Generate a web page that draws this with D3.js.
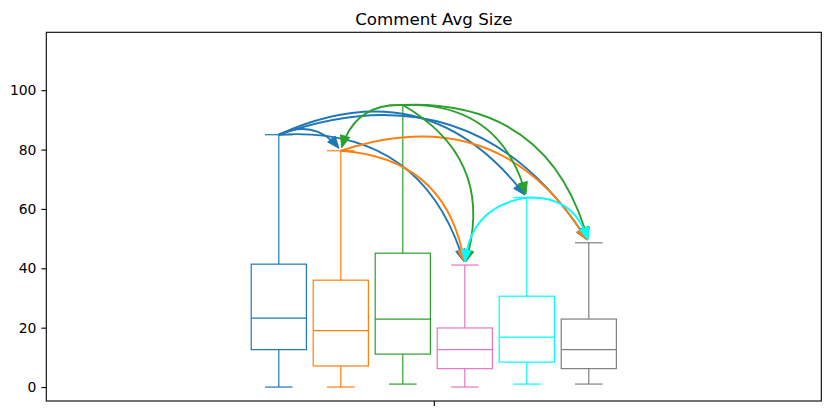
<!DOCTYPE html>
<html>
<head>
<meta charset="utf-8">
<script src="https://cdn.jsdelivr.net/npm/d3@7"></script>
<style>
  body { margin: 0; background: #fff; }
  svg { display: block; }
  text { font-family: "DejaVu Sans", sans-serif; }
</style>
</head>
<body>
<svg id="chart" width="831" height="416"></svg>
<script>
// ---- data ----
const groups = ["G1", "G2", "G3", "G4", "G5", "G6"];
const whiskerLow = [0, 0, 1, 0, 1, 1];
const q1 = [12.6, 7.1, 11.1, 6.2, 8.4, 6.2];
const median = [23.2, 19.0, 22.9, 12.6, 16.8, 12.6];
const q3 = [41.4, 36.0, 45.1, 19.9, 30.6, 22.9];
const whiskerHigh = [85, 79.6, 95, 41.1, 63.8, 48.6];
const positions = [-2.5, -1.5, -0.5, 0.5, 1.5, 2.5];
const yTicks = [0, 20, 40, 60, 80, 100];
const xTicks = [0];
const arrowFrom = [0, 0, 0, 0, 1, 1, 2, 2, 2, 2, 4, 4];
const arrowTo   = [1, 3, 4, 5, 3, 5, 1, 3, 4, 5, 3, 5];
const title = "Comment Avg Size";

// ---- styles ----
const colors = ["#1f77b4", "#ff7f0e", "#2ca02c", "#e377c2", "#00ffff", "#7f7f7f"];

const svg = d3.select("#chart");
const L = 46.3, R = 821.3, T = 32.3, B = 401;

const x = d3.scaleLinear().domain([-6.25, 6.25]).range([L, R]);
const y = d3.scaleLinear().domain([-4.7, 119.5]).range([B, T]);

const boxW = 0.89, capW = 0.445;

// title
svg.append("text")
  .attr("x", (L + R) / 2).attr("y", 25)
  .attr("text-anchor", "middle")
  .attr("font-size", "16.67px")
  .attr("fill", "#000")
  .text(title);

// boxes
const g = svg.append("g");
groups.forEach((name, i) => {
  const c = colors[i];
  const cx = x(positions[i]);
  const half = (x(boxW) - x(0)) / 2;
  const capHalf = (x(capW) - x(0)) / 2;
  const bg = g.append("g").attr("stroke", c).attr("stroke-width", 1.2).attr("fill", "none");
  bg.append("rect")
    .attr("x", cx - half).attr("y", y(q3[i]))
    .attr("width", 2 * half).attr("height", y(q1[i]) - y(q3[i]));
  bg.append("line").attr("x1", cx - half).attr("x2", cx + half)
    .attr("y1", y(median[i])).attr("y2", y(median[i]));
  bg.append("line").attr("x1", cx).attr("x2", cx)
    .attr("y1", y(q3[i])).attr("y2", y(whiskerHigh[i]));
  bg.append("line").attr("x1", cx).attr("x2", cx)
    .attr("y1", y(q1[i])).attr("y2", y(whiskerLow[i]));
  bg.append("line").attr("x1", cx - capHalf).attr("x2", cx + capHalf)
    .attr("y1", y(whiskerHigh[i])).attr("y2", y(whiskerHigh[i]));
  bg.append("line").attr("x1", cx - capHalf).attr("x2", cx + capHalf)
    .attr("y1", y(whiskerLow[i])).attr("y2", y(whiskerLow[i]));
});

// arrows (arc3-like quadratic curves, always bowing upward)
const rad = 0.4, shrinkB = 3, headLen = 12, headHalfW = 4.8;
function qpt(p0, c, p2, t) {
  const u = 1 - t;
  return [u*u*p0[0] + 2*u*t*c[0] + t*t*p2[0], u*u*p0[1] + 2*u*t*c[1] + t*t*p2[1]];
}
function tAtDistFromEnd(p0, c, p2, d) {
  const N = 400;
  let acc = 0, prev = p2;
  for (let k = N - 1; k >= 0; k--) {
    const p = qpt(p0, c, p2, k / N);
    acc += Math.hypot(p[0] - prev[0], p[1] - prev[1]);
    prev = p;
    if (acc >= d) return k / N;
  }
  return 0;
}
const ag = svg.append("g");
arrowFrom.forEach((a, k) => {
  const b = arrowTo[k];
  const col = colors[a];
  const p0 = [x(positions[a]), y(whiskerHigh[a])];
  const p2 = [x(positions[b]), y(whiskerHigh[b])];
  const dx = p2[0] - p0[0], dy = p2[1] - p0[1];
  const f = dx > 0 ? -rad : rad;
  const mx = (p0[0] + p2[0]) / 2, my = (p0[1] + p2[1]) / 2;
  const c = [mx - f * dy, my + f * dx];
  const tTip = tAtDistFromEnd(p0, c, p2, shrinkB);
  const tBase = tAtDistFromEnd(p0, c, p2, shrinkB + headLen * 0.85);
  // split curve at tBase: first segment control = lerp(p0, c, tBase)
  const c1 = [p0[0] + (c[0] - p0[0]) * tBase, p0[1] + (c[1] - p0[1]) * tBase];
  const e1 = qpt(p0, c, p2, tBase);
  ag.append("path")
    .attr("d", `M${p0[0]},${p0[1]} Q${c1[0]},${c1[1]} ${e1[0]},${e1[1]}`)
    .attr("fill", "none").attr("stroke", col).attr("stroke-width", 1.9);
  const tip = qpt(p0, c, p2, tTip);
  // tangent at tip
  const u = 1 - tTip;
  const tx = 2*u*(c[0] - p0[0]) + 2*tTip*(p2[0] - c[0]);
  const ty = 2*u*(c[1] - p0[1]) + 2*tTip*(p2[1] - c[1]);
  const len = Math.hypot(tx, ty);
  const ux = tx / len, uy = ty / len;
  const bx = tip[0] - ux * headLen, by = tip[1] - uy * headLen;
  const px = -uy, py = ux;
  ag.append("path")
    .attr("d", `M${tip[0]},${tip[1]} L${bx + px*headHalfW},${by + py*headHalfW} L${bx - px*headHalfW},${by - py*headHalfW} Z`)
    .attr("fill", col).attr("stroke", col).attr("stroke-width", 1).attr("stroke-linejoin", "miter");
});

// axes
const yAxis = svg.append("g").attr("transform", `translate(${L},0)`)
  .call(d3.axisLeft(y).tickValues(yTicks).tickSize(4.9).tickPadding(5));
yAxis.select(".domain").remove();
yAxis.selectAll("text").attr("font-size", "13.9px").attr("font-family", "DejaVu Sans").attr("fill", "#000");
yAxis.selectAll("line").attr("stroke", "#000").attr("stroke-width", 1.1);

const xAxis = svg.append("g").attr("transform", `translate(0,${B})`)
  .call(d3.axisBottom(x).tickValues(xTicks).tickSize(4.9).tickFormat(() => ""));
xAxis.select(".domain").remove();
xAxis.selectAll("line").attr("stroke", "#000").attr("stroke-width", 1.1);

// frame
svg.append("rect")
  .attr("x", L).attr("y", T).attr("width", R - L).attr("height", B - T)
  .attr("fill", "none").attr("stroke", "#000").attr("stroke-width", 1.1);
</script>
</body>
</html>
